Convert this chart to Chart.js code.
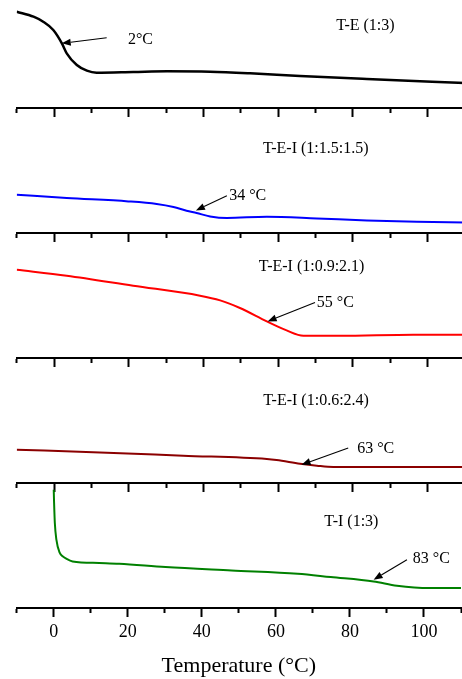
<!DOCTYPE html>
<html>
<head>
<meta charset="utf-8">
<script src="https://cdn.jsdelivr.net/npm/chart.js@4/dist/chart.umd.min.js"></script>
<style>
  html, body { margin: 0; padding: 0; width: 462px; height: 679px; overflow: hidden; background: #fff; }
  #wrap { position: relative; width: 462px; height: 679px; overflow: hidden; }
  #wrap canvas { position: absolute; left: 0; }
</style>
</head>
<body>
<div id="wrap">
  <canvas id="p0" width="465" height="134" style="top:-17px"></canvas>
  <canvas id="p1" width="465" height="134" style="top:108px"></canvas>
  <canvas id="p2" width="465" height="134" style="top:233px"></canvas>
  <canvas id="p3" width="465" height="134" style="top:358px"></canvas>
  <canvas id="p4" width="465" height="196" style="top:483px"></canvas>
</div>
<script>
// DSC heating traces (temperature in °C, heat flow in arbitrary offset units)
const tempTE13 = [-10, -5.5, -2.9, -0.2, 2.1, 3.4, 6.1, 8.8, 11.4, 21.2, 30.3, 41.8, 52.5, 65.9, 83.8, 110];
const flowTE13 = [9.63, 9.13, 8.63, 7.8, 6.47, 5.47, 4.3, 3.73, 3.53, 3.6, 3.67, 3.63, 3.47, 3.2, 2.9, 2.5];

const tempTEI_15 = [-10, 3.4, 19.9, 27.5, 32, 35.5, 38.2, 41.8, 46.3, 57, 70.4, 83.8, 97.2, 110];
const flowTEI_15 = [3.83, 3.5, 3.16, 2.9, 2.6, 2.23, 2.0, 1.66, 1.5, 1.63, 1.46, 1.26, 1.13, 1.06];

const tempTEI_09 = [-10, 3.4, 21.2, 39.1, 44.5, 49.8, 57, 62.3, 66.8, 76.6, 96.2, 110];
const flowTEI_09 = [8.83, 8.23, 7.23, 6.23, 5.76, 5.0, 3.66, 2.76, 2.23, 2.23, 2.33, 2.33];

const tempTEI_06 = [-10, 12.3, 34.6, 57, 59.6, 65.9, 70.4, 74.8, 110];
const flowTEI_06 = [3.33, 3.06, 2.73, 2.4, 2.3, 1.93, 1.73, 1.6, 1.6];

const tempTI13 = [0, 0.1, 0.3, 0.72, 1.6, 2.5, 3.4, 5.1, 12.3, 17.7, 30.2, 48, 65.9, 74.8, 86.4, 92.7, 101.6, 110];
const flowTI13 = [11.83, 10.5, 8.5, 6.83, 5.53, 5.15, 4.93, 4.66, 4.5, 4.43, 4.1, 3.76, 3.43, 3.1, 2.66, 2.23, 2.0, 2.0];

const sampleNames = ['T-E (1:3)', 'T-E-I (1:1.5:1.5)', 'T-E-I (1:0.9:2.1)', 'T-E-I (1:0.6:2.4)', 'T-I (1:3)'];
const transitionLabels = ['2°C', '34 °C', '55 °C', '63 °C', '83 °C'];
const xTicksMajor = [0, 20, 40, 60, 80, 100];

const series = [
  { x: tempTE13, y: flowTE13, color: '#000000', width: 2.5 },
  { x: tempTEI_15, y: flowTEI_15, color: '#0000ff', width: 2 },
  { x: tempTEI_09, y: flowTEI_09, color: '#ff0000', width: 2 },
  { x: tempTEI_06, y: flowTEI_06, color: '#8b0000', width: 2 },
  { x: tempTI13, y: flowTI13, color: '#008000', width: 2 }
];

// placement of sample names and Tg call-outs, in axis units
const notes = [
  { name: [83.4, 8.2], tg: [19.8, 6.8], tail: [14.1, 7.03], tip: [2.06, 6.47] },
  { name: [70.1, 8.4], tg: [46.9, 3.73], tail: [46.3, 3.73], tip: [38.0, 2.26] },
  { name: [69.0, 9.16], tg: [70.4, 5.56], tail: [69.9, 5.56], tip: [57.2, 3.66] },
  { name: [70.2, 8.26], tg: [81.2, 3.4], tail: [78.8, 3.5], tip: [66.3, 1.83] },
  { name: [80.4, 8.66], tg: [97.0, 4.9], tail: [95.4, 4.83], tip: [86.4, 2.83] }
];

const SERIF = "'Liberation Serif', 'Times New Roman', serif";
Chart.defaults.font.family = SERIF;
Chart.defaults.color = '#000';

const annotate = {
  id: 'annotate',
  afterDraw(chart, args, opts) {
    const n = opts.note;
    if (!n) return;
    const { ctx } = chart;
    const xs = chart.scales.x, ys = chart.scales.y;
    const px = v => xs.getPixelForValue(v), py = v => ys.getPixelForValue(v);
    ctx.save();
    ctx.fillStyle = '#000';
    ctx.strokeStyle = '#000';
    ctx.font = '16px ' + SERIF;
    ctx.textBaseline = 'middle';
    ctx.textAlign = 'center';
    ctx.fillText(opts.name, px(n.name[0]), py(n.name[1]));
    ctx.textAlign = 'left';
    ctx.fillText(opts.tg, px(n.tg[0]), py(n.tg[1]));
    // arrow shaft
    const x1 = px(n.tail[0]), y1 = py(n.tail[1]);
    const x2 = px(n.tip[0]), y2 = py(n.tip[1]);
    const ang = Math.atan2(y2 - y1, x2 - x1);
    const len = 9, half = 3.5;
    const bx = x2 - len * Math.cos(ang), by = y2 - len * Math.sin(ang);
    ctx.lineWidth = 1.1;
    ctx.beginPath();
    ctx.moveTo(x1, y1);
    ctx.lineTo(bx, by);
    ctx.stroke();
    // arrow head
    ctx.beginPath();
    ctx.moveTo(x2, y2);
    ctx.lineTo(bx + half * Math.sin(ang), by - half * Math.cos(ang));
    ctx.lineTo(bx - half * Math.sin(ang), by + half * Math.cos(ang));
    ctx.closePath();
    ctx.fill();
    ctx.restore();
  }
};

function makePanel(i) {
  const s = series[i];
  const last = i === series.length - 1;
  const data = s.x.map((t, k) => ({ x: t, y: s.y[k] }));
  new Chart(document.getElementById('p' + i), {
    type: 'line',
    data: {
      datasets: [{
        data,
        borderColor: s.color,
        borderWidth: s.width,
        pointRadius: 0,
        cubicInterpolationMode: 'monotone',
        fill: false
      }]
    },
    options: {
      responsive: false,
      animation: false,
      devicePixelRatio: 1,
      layout: { padding: { left: 16.7, right: 0.3, top: 0, bottom: 0 } },
      plugins: {
        legend: { display: false },
        tooltip: { enabled: false },
        annotate: { note: notes[i], name: sampleNames[i], tg: transitionLabels[i] }
      },
      scales: {
        x: {
          type: 'linear',
          min: -10,
          max: 110,
          border: { display: true, color: '#000', width: 2 },
          grid: {
            drawOnChartArea: false,
            drawTicks: true,
            tickLength: 9,
            tickWidth: 2,
            tickColor: '#000',
            tickBorderDash: ctx => (xTicksMajor.includes(ctx.tick && ctx.tick.value) ? [] : [4, 40])
          },
          ticks: {
            display: last,
            stepSize: 10,
            autoSkip: false,
            maxRotation: 0,
            padding: 4,
            font: { size: 18, family: SERIF },
            color: '#000',
            callback: v => (xTicksMajor.includes(v) ? String(v) : '')
          },
          title: {
            display: last,
            text: 'Temperature (°C)',
            font: { size: 22, family: SERIF },
            color: '#000',
            padding: { top: 6, bottom: 0 }
          }
        },
        y: { display: false, min: 0, max: 12.5 }
      }
    },
    plugins: [annotate]
  });
}

for (let i = 0; i < series.length; i++) makePanel(i);
</script>
</body>
</html>
